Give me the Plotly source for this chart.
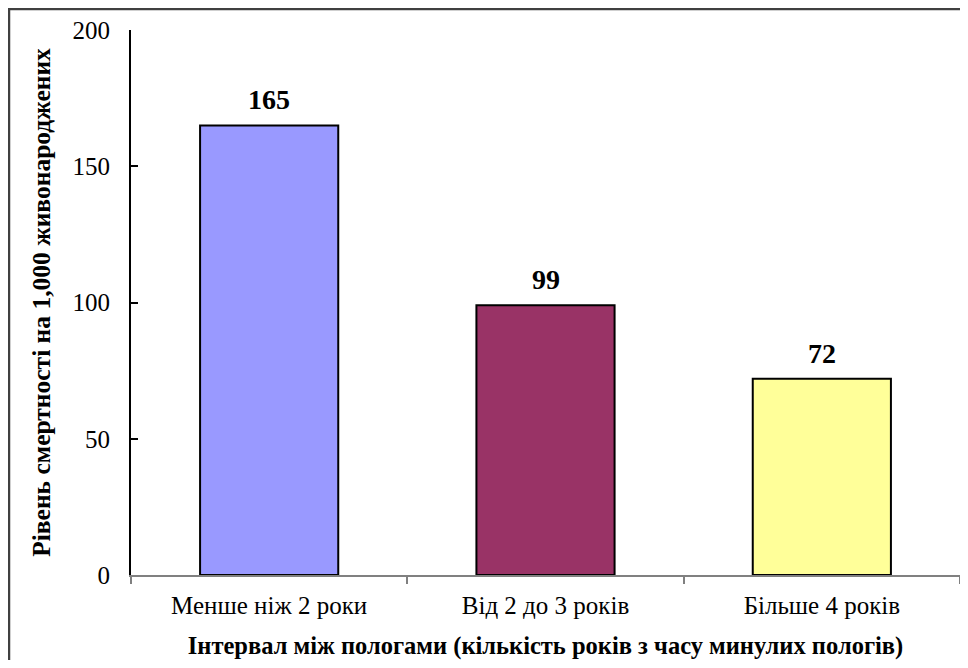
import plotly.graph_objects as go

categories = ["Менше ніж 2 роки", "Від 2 до 3 років", "Більше 4 років"]
values = [165, 99, 72]
colors = ["#9999FF", "#993366", "#FFFF99"]
y_ticks = [0, 50, 100, 150, 200]

FONT = "Liberation Serif"

fig = go.Figure(go.Bar(
    x=categories, y=values,
    marker=dict(color=colors, line=dict(color="black", width=2)),
    hoverinfo="x+y",
))

# page has 8px body margin: figure origin sits at (8, 8) in the window
W, H = 952, 652
L, R, T, B = 123, 0, 22, 85
pw, ph = W - L - R, H - T - B

annotations = [
    dict(x=c, y=v, xref="x", yref="y", text=str(v), showarrow=False,
         yanchor="bottom", yshift=8,
         font=dict(family=FONT, size=28, color="black", weight="bold"))
    for c, v in zip(categories, values)
]

fig.update_layout(
    width=W, height=H,
    margin=dict(l=L, r=R, t=T, b=B, autoexpand=False),
    plot_bgcolor="white", paper_bgcolor="white",
    bargap=0.5, showlegend=False,
    font=dict(family=FONT, color="black"),
    annotations=annotations,
    xaxis=dict(
        automargin=False,
        showline=True, linecolor="#808080", linewidth=2,
        ticks="outside", tickson="boundaries", ticklen=7, tickcolor="#808080", tickwidth=1.5,
        tickfont=dict(size=25, family=FONT), ticklabelstandoff=7,
        title=dict(text="Інтервал між пологами (кількість років з часу минулих пологів)",
                   font=dict(size=24.5, family=FONT, weight="bold"), standoff=29),
    ),
    yaxis=dict(
        automargin=False,
        range=[0, 200], tickvals=y_ticks, showgrid=False, zeroline=False,
        showline=True, linecolor="black", linewidth=2,
        ticks="inside", ticklen=7, tickcolor="black", tickwidth=1.5,
        tickfont=dict(size=25, family=FONT), ticklabelstandoff=14,
        title=dict(text="Рівень смертності на 1,000 живонароджених",
                   font=dict(size=25.5, family=FONT, weight="bold"), standoff=15),
    ),
    shapes=[dict(
        type="rect", xref="paper", yref="paper",
        x0=(1 - L) / pw, x1=(W + 20 - L) / pw,
        y0=(H - B - (H + 20)) / ph, y1=(H - B - 1) / ph,
        line=dict(color="#404040", width=2.5), fillcolor="rgba(0,0,0,0)",
        layer="above",
    )],
)

fig.write_html("out.html")
